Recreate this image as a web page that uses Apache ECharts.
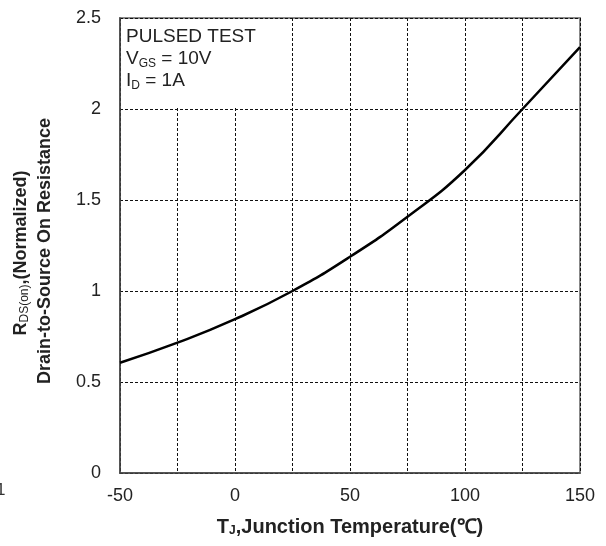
<!DOCTYPE html>
<html>
<head>
<meta charset="utf-8">
<script src="https://cdn.jsdelivr.net/npm/echarts@6/dist/echarts.min.js"></script>
<style>
html,body{margin:0;padding:0;background:#fff;}
#c{width:606px;height:546px;}
</style>
</head>
<body>
<div id="c"></div>
<script>
var temperatures = [-50, -25, 0, 25, 50, 75, 100, 125, 150];
var rdsNormalized = [0.606, 0.716, 0.845, 1.0, 1.188, 1.408, 1.665, 2.0, 2.34];
var xLabelValues = [-50, 0, 50, 100, 150];
var annotationLines = ['PULSED TEST', 'V{sub|GS} = 10V', 'I{sub|D} = 1A'];

var FONT = 'Arial, "Liberation Sans", sans-serif';
var chart = echarts.init(document.getElementById('c'));
var points = temperatures.map(function (t, i) { return [t, rdsNormalized[i]]; });

chart.setOption({
  animation: false,
  backgroundColor: '#fff',
  grid: {
    left: 120, right: 26, top: 18, bottom: 73,
    show: true, borderColor: '#888', borderWidth: 2, backgroundColor: 'transparent'
  },
  xAxis: {
    type: 'value', min: -50, max: 150, interval: 25,
    axisLine: { show: true, onZero: false, lineStyle: { color: '#444', width: 1.5 } },
    axisTick: { show: false },
    axisLabel: {
      color: '#222', fontFamily: FONT, fontSize: 18, margin: 14,
      formatter: function (v) { return xLabelValues.indexOf(v) >= 0 ? String(v) : ''; }
    },
    splitLine: { show: true, lineStyle: { color: '#111', type: [3, 2], width: 1 } }
  },
  yAxis: {
    type: 'value', min: 0, max: 2.5, interval: 0.5,
    axisLine: { show: true, onZero: false, lineStyle: { color: '#444', width: 1.5 } },
    axisTick: { show: false },
    axisLabel: { color: '#222', fontFamily: FONT, fontSize: 18, margin: 19 },
    splitLine: { show: true, lineStyle: { color: '#111', type: [3, 2], width: 1 } }
  },
  graphic: [
    { type: 'rect', left: 121, top: 19, shape: { width: 168, height: 89 }, style: { fill: '#fff' }, z: 5 },
    {
      type: 'text', left: 126, top: 26, z: 6,
      style: {
        text: annotationLines.join('\n'),
        font: '19px ' + FONT, fill: '#222', lineHeight: 22,
        rich: { sub: { fontSize: 12, fontFamily: FONT, fill: '#222', verticalAlign: 'bottom', padding: [6, 0, 0, 0], lineHeight: 22 } }
      }
    },
    {
      type: 'text', x: 21, y: 253, rotation: Math.PI / 2, z: 6,
      style: {
        text: 'R{sub|DS(on)},(Normalized)',
        font: 'bold 18px ' + FONT, fill: '#222', align: 'center', verticalAlign: 'middle',
        rich: { sub: { fontSize: 12, fontFamily: FONT, fontWeight: 'normal', fill: '#222', padding: [7, 0, 0, 0] } }
      }
    },
    {
      type: 'text', x: 45, y: 251, rotation: Math.PI / 2, z: 6,
      style: {
        text: 'Drain-to-Source On Resistance',
        font: 'bold 18px ' + FONT, fill: '#222', align: 'center', verticalAlign: 'middle'
      }
    },
    {
      type: 'text', x: 350, y: 527, z: 6,
      style: {
        text: 'T{sub|J},Junction Temperature(℃)',
        font: 'bold 20px ' + FONT, fill: '#222', align: 'center', verticalAlign: 'middle',
        rich: { sub: { fontSize: 12, fontWeight: 'bold', fontFamily: FONT, fill: '#222', padding: [8, 0, 0, 0] } }
      }
    },
    { type: 'text', x: -4, y: 482, z: 6, style: { text: '1', font: '17px ' + FONT, fill: '#333' } }
  ],
  series: [{
    type: 'line', data: points, smooth: true, showSymbol: false,
    lineStyle: { color: '#000', width: 2.5 }, z: 7
  }]
});
</script>
</body>
</html>
